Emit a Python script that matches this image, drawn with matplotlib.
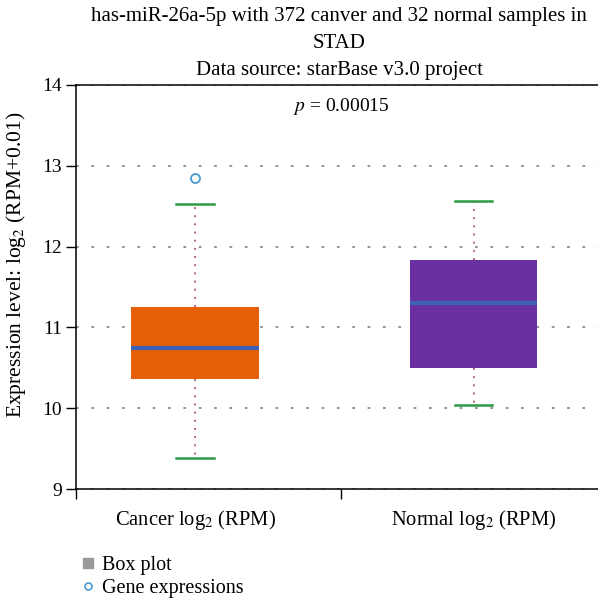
import matplotlib
matplotlib.use("Agg")
import matplotlib.pyplot as plt
from matplotlib.lines import Line2D

plt.rcParams['font.family'] = ['Liberation Serif', 'DejaVu Serif']
plt.rcParams['mathtext.fontset'] = 'stix'

# box statistics read as log2(RPM+0.01)
groups = ["Cancer", "Normal"]
tick_labels = ["Cancer log$_2$ (RPM)", "Normal log$_2$ (RPM)"]
q1 = [10.36, 10.50]
med = [10.75, 11.30]
q3 = [11.25, 11.84]
whislo = [9.38, 10.04]
whishi = [12.53, 12.56]
outliers = [[12.85], []]
p_value = "0.00015"

box_colors = ["#E55F06", "#6A2FA3"]
positions = [0.45, 1.5]

stats = []
for i, g in enumerate(groups):
    stats.append(dict(label=g, q1=q1[i], med=med[i], q3=q3[i],
                      whislo=whislo[i], whishi=whishi[i], fliers=outliers[i]))

fig = plt.figure(figsize=(5.98, 5.99), dpi=100)
ax = fig.add_axes([76 / 598, 1 - 489 / 599, 530 / 598, 404 / 599])

ax.set_axisbelow(True)
ax.yaxis.grid(True, color="#8a8a8a", linestyle=(0, (1.5, 7)), linewidth=1.3)

bp = ax.bxp(stats, positions=positions, widths=0.483, patch_artist=True,
            showfliers=True, manage_ticks=False,
            boxprops=dict(linewidth=0),
            whiskerprops=dict(color="#b86a6a", linestyle=(0, (1, 3.2)), linewidth=1.4),
            capprops=dict(color="#2f9a45", linewidth=1.8),
            capwidths=0.143,
            medianprops=dict(color="#3b62b4", linewidth=3),
            flierprops=dict(marker="o", markerfacecolor="none",
                            markeredgecolor="#4a9ad2", markersize=6.5,
                            markeredgewidth=1.3))
for patch, c in zip(bp["boxes"], box_colors):
    patch.set_facecolor(c)
    patch.set_edgecolor(c)

ax.set_xlim(0, 2)
ax.set_ylim(9, 14)
ax.set_yticks([9, 10, 11, 12, 13, 14])
ax.set_xticks([0, 1, 2])
ax.set_xticklabels([])
ax.set_xticks(positions, minor=True)
ax.set_xticklabels(tick_labels, minor=True)
ax.tick_params(axis="x", which="minor", length=0, pad=14, labelsize=14.8)
ax.tick_params(axis="x", which="major", length=7, width=1)
ax.tick_params(axis="y", length=7, width=1, labelsize=14, pad=3)

ax.spines["right"].set_visible(False)
for s in ["left", "bottom", "top"]:
    ax.spines[s].set_linewidth(1.1)

ax.set_ylabel("Expression level: log$_2$ (RPM+0.01)", fontsize=15.5)
ax.yaxis.set_label_coords(-0.09, 0.555)

ax.text(1.0, 13.74, "$p$ = " + p_value, ha="center", va="center", fontsize=14)

fig.text(339 / 598, 1 - 17 / 599, "has-miR-26a-5p with 372 canver and 32 normal samples in",
         ha="center", va="center", fontsize=15)
fig.text(339 / 598, 1 - 43 / 599, "STAD", ha="center", va="center", fontsize=15)
fig.text(339 / 598, 1 - 70 / 599, "Data source: starBase v3.0 project",
         ha="center", va="center", fontsize=15)

handles = [Line2D([], [], marker="s", linestyle="none", color="#999999", markersize=7),
           Line2D([], [], marker="o", linestyle="none", markerfacecolor="none",
                  markeredgecolor="#4a9ad2", markersize=5, markeredgewidth=1.2)]
fig.legend(handles, ["Box plot", "Gene expressions"], loc="upper left",
           bbox_to_anchor=(68 / 598, 1 - 546 / 599), frameon=False, fontsize=14.5,
           handlelength=1.0, handletextpad=0.2, labelspacing=0.2, borderpad=0)

fig.savefig("out.png", dpi=100)
